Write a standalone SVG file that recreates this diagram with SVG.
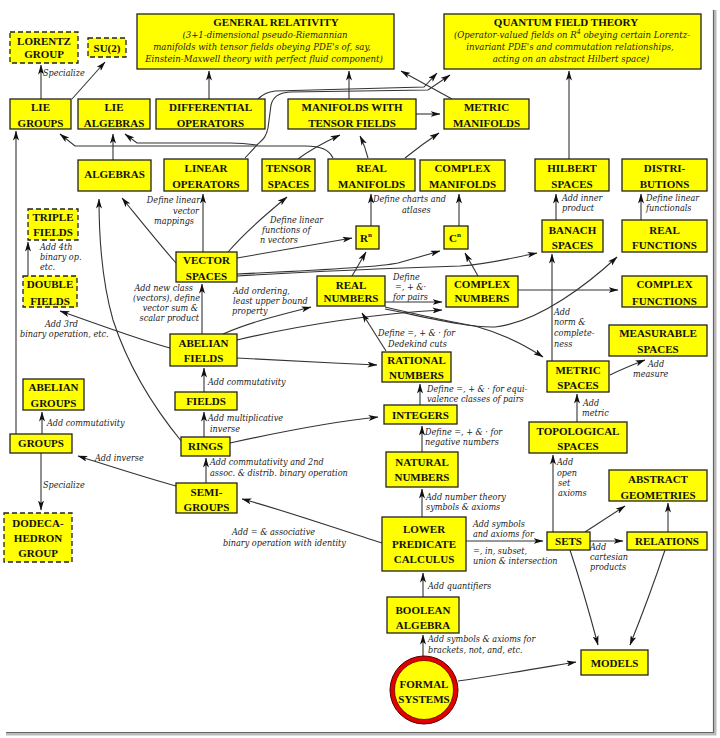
<svg xmlns="http://www.w3.org/2000/svg" width="720" height="738" viewBox="0 0 720 738">
<style>
.b{fill:#ffff00;stroke:#222;stroke-width:1.3}
.d{fill:#ffff00;stroke:#222;stroke-width:1.3;stroke-dasharray:5,3}
.t{font-family:"Liberation Serif",serif;font-weight:bold;font-size:11px;fill:#111;text-anchor:middle}
.i{font-family:"DejaVu Serif Condensed","Liberation Serif",serif;font-style:italic;font-size:9px;fill:#222}
.g{font-family:"DejaVu Serif Condensed","Liberation Serif",serif;font-style:italic;font-size:9.5px;fill:#222;text-anchor:middle}
.e{text-anchor:end}
#connectors path{fill:none;stroke:#333;stroke-width:1.1;marker-end:url(#a)}
</style>
<defs>
<marker id="a" markerWidth="10" markerHeight="6" refX="9.5" refY="3" orient="auto" markerUnits="userSpaceOnUse"><path d="M0,0 L10,3 L0,6 L2.5,3z" fill="#111"/></marker>
</defs>
<rect width="720" height="738" fill="#fff"/>
<path d="M715,10 V734 H6" fill="none" stroke="#bbb" stroke-width="3"/>
<path d="M713.5,10 V732.5 H6" fill="none" stroke="#666" stroke-width="1.2"/>

<g id="connectors">
<path d="M41,99 V65"/>
<path d="M72,99 L105,62"/>
<path d="M209,99 V71"/>
<path d="M349,99 V71"/>
<path d="M452,99 L401,71"/>
<path d="M258,99 C262,95 266,92 275,91 L424,87 L437,73"/>
<path d="M245,158 L257,145 C262,140 266,138 268,128 L271,105 C273,97 278,93 290,92 L428,90 L450,75"/>
<path d="M257,145 C250,144 245,143 230,143 H137 L125,134"/>
<path d="M333,158 C329,150 322,146 305,146 H75 L60,134"/>
<path d="M113,160 V134"/>
<path d="M298,159 C310,150 325,142 340,135"/>
<path d="M368,158 C366,150 364,144 360,136"/>
<path d="M405,158 C415,150 427,141 439,133"/>
<path d="M416,114 H440"/>
<path d="M569,159 V71"/>
<path d="M556,220 V194"/>
<path d="M641,220 V194"/>
<path d="M203,252 V194"/>
<path d="M228,252 C245,232 265,215 287,197"/>
<path d="M237,258 L352,238"/>
<path d="M176,263 C160,245 140,220 122,198"/>
<path d="M237,274 C300,271 375,268 398,263 L440,251"/>
<path d="M237,276 C320,271 400,268 460,266 C490,264 512,258 537,253"/>
<path d="M352,276 L366,252"/>
<path d="M371,226 V194"/>
<path d="M459,226 V194"/>
<path d="M478,276 L465,253"/>
<path d="M385,302 H442"/>
<path d="M518,290 H618"/>
<path d="M385,307 C420,315 450,322 475,326 C500,333 525,345 543,357"/>
<path d="M385,309 C430,318 470,328 495,327 C540,322 590,282 617,257"/>
<path d="M237,340 C300,325 380,313 442,310"/>
<path d="M223,334 C250,322 280,315 311,307"/>
<path d="M237,358 C280,360 330,363 377,365"/>
<path d="M202,334 V284"/>
<path d="M170,348 C140,340 100,325 60,311"/>
<path d="M28,276 V242"/>
<path d="M204,392 V368"/>
<path d="M204,437 V412"/>
<path d="M206,483 V458"/>
<path d="M230,443 C280,432 330,422 378,417"/>
<path d="M182,442 C150,403 127,363 113,320 C103,285 99,240 99,199"/>
<path d="M386,351 L362,313"/>
<path d="M420,405 V384"/>
<path d="M422,452 V426"/>
<path d="M422,517 V489"/>
<path d="M423,597 V573"/>
<path d="M423,657 V635"/>
<path d="M458,681 C500,675 540,668 576,662"/>
<path d="M466,541 H543"/>
<path d="M382,543 C340,530 290,512 242,499"/>
<path d="M176,486 C140,476 110,466 78,456"/>
<path d="M42,434 V412"/>
<path d="M16,434 V131"/>
<path d="M41,453 V510"/>
<path d="M553,532 V455"/>
<path d="M577,422 V394"/>
<path d="M552,361 V254"/>
<path d="M610,375 C620,370 632,365 645,360"/>
<path d="M590,541 H623"/>
<path d="M668,532 V503"/>
<path d="M585,532 L625,506"/>
<path d="M570,550 C580,580 590,615 598,645"/>
<path d="M665,550 C655,580 642,615 630,645"/>
</g>

<g id="labels">
<text class="i" x="43" y="76">Specialize</text>
<text class="i e" x="200" y="203">Define linear</text>
<text class="i e" x="199" y="214">vector</text>
<text class="i e" x="194" y="224">mappings</text>
<text class="i" x="270" y="223">Define linear</text>
<text class="i" x="262" y="233">functions of</text>
<text class="i" x="260" y="243">n vectors</text>
<text class="i" x="373" y="202">Define charts and</text>
<text class="i" x="402" y="213">atlases</text>
<text class="i" x="562" y="201">Add inner</text>
<text class="i" x="562" y="211">product</text>
<text class="i" x="646" y="201">Define linear</text>
<text class="i" x="646" y="211">functionals</text>
<text class="i" x="40" y="250">Add 4th</text>
<text class="i" x="40" y="260">binary op.</text>
<text class="i" x="40" y="270">etc.</text>
<text class="i e" x="193" y="291">Add new class</text>
<text class="i e" x="200" y="301">(vectors), define</text>
<text class="i e" x="198" y="311">vector sum &amp;</text>
<text class="i e" x="199" y="321">scalar product</text>
<text class="i" x="233" y="294">Add ordering,</text>
<text class="i" x="233" y="304">least upper bound</text>
<text class="i" x="232" y="314">property</text>
<text class="i" x="393" y="280">Define</text>
<text class="i" x="395" y="290">=, + &amp;·</text>
<text class="i" x="393" y="300">for pairs</text>
<text class="i" x="45" y="327">Add 3rd</text>
<text class="i" x="20" y="337">binary operation, etc.</text>
<text class="i" x="378" y="336">Define =, + &amp; · for</text>
<text class="i" x="388" y="347">Dedekind cuts</text>
<text class="i" x="554" y="315">Add</text>
<text class="i" x="554" y="325">norm &amp;</text>
<text class="i" x="554" y="336">complete-</text>
<text class="i" x="554" y="347">ness</text>
<text class="i" x="648" y="367">Add</text>
<text class="i" x="633" y="377">measure</text>
<text class="i" x="208" y="385">Add commutativity</text>
<text class="i" x="427" y="392">Define =, + &amp; · for equi-</text>
<text class="i" x="427" y="402">valence classes of pairs</text>
<text class="i" x="208" y="421">Add multiplicative</text>
<text class="i" x="210" y="432">inverse</text>
<text class="i" x="47" y="426">Add commutativity</text>
<text class="i" x="583" y="406">Add</text>
<text class="i" x="582" y="416">metric</text>
<text class="i" x="425" y="435">Define =, + &amp; · for</text>
<text class="i" x="425" y="445">negative numbers</text>
<text class="i" x="95" y="461">Add inverse</text>
<text class="i" x="210" y="465">Add commutativity and 2nd</text>
<text class="i" x="210" y="476">assoc. &amp; distrib. binary operation</text>
<text class="i" x="557" y="465">Add</text>
<text class="i" x="557" y="476">open</text>
<text class="i" x="558" y="486">set</text>
<text class="i" x="558" y="496">axioms</text>
<text class="i" x="43" y="488">Specialize</text>
<text class="i" x="426" y="500">Add number theory</text>
<text class="i" x="426" y="510">symbols &amp; axioms</text>
<text class="i" x="473" y="527">Add symbols</text>
<text class="i" x="473" y="537">and axioms for</text>
<text class="i" x="473" y="554">=, in, subset,</text>
<text class="i" x="473" y="564">union &amp; intersection</text>
<text class="i" x="232" y="535">Add = &amp; associative</text>
<text class="i" x="223" y="546">binary operation with identity</text>
<text class="i" x="590" y="550">Add</text>
<text class="i" x="590" y="560">cartesian</text>
<text class="i" x="590" y="570">products</text>
<text class="i" x="428" y="589">Add quantifiers</text>
<text class="i" x="428" y="642">Add symbols &amp; axioms for</text>
<text class="i" x="428" y="653">brackets, not, and, etc.</text>
</g>

<g id="gr"><rect class="b" x="137" y="14" width="257" height="55"/>
<text class="t" x="276" y="26">GENERAL RELATIVITY</text>
<text class="g" x="265" y="38">(3+1-dimensional pseudo-Riemannian</text>
<text class="g" x="262" y="50">manifolds with tensor fields obeying PDE's of, say,</text>
<text class="g" x="264" y="62">Einstein-Maxwell theory with perfect fluid component)</text></g>
<g id="qft"><rect class="b" x="444" y="14" width="257" height="55"/>
<text class="t" x="566" y="26">QUANTUM FIELD THEORY</text>
<text class="g" x="572" y="38">(Operator-valued fields on R<tspan dy="-4" font-size="7">4</tspan><tspan dy="4"> obeying certain Lorentz-</tspan></text>
<text class="g" x="570" y="50">invariant PDE's and commutation relationships,</text>
<text class="g" x="571" y="62">acting on an abstract Hilbert space)</text></g>
<g id="lorentz"><rect class="d" x="10" y="32" width="68" height="31"/><text class="t" x="44" y="45">LORENTZ</text><text class="t" x="44" y="58">GROUP</text></g>
<g id="su2"><rect class="d" x="88" y="38" width="38" height="19"/><text class="t" x="107" y="52">SU(2)</text></g>
<g id="lie-groups"><rect class="b" x="10" y="99" width="61" height="30"/><text class="t" x="40.5" y="111">LIE</text><text class="t" x="40.5" y="127">GROUPS</text></g>
<g id="lie-algebras"><rect class="b" x="78" y="99" width="72" height="30"/><text class="t" x="114" y="111">LIE</text><text class="t" x="114" y="127">ALGEBRAS</text></g>
<g id="diff-ops"><rect class="b" x="156" y="99" width="109" height="30"/><text class="t" x="210.5" y="111">DIFFERENTIAL</text><text class="t" x="210.5" y="127">OPERATORS</text></g>
<g id="mwtf"><rect class="b" x="288" y="99" width="128" height="30"/><text class="t" x="352" y="111">MANIFOLDS WITH</text><text class="t" x="352" y="127">TENSOR FIELDS</text></g>
<g id="metric-manifolds"><rect class="b" x="444" y="99" width="85" height="30"/><text class="t" x="486.5" y="111">METRIC</text><text class="t" x="486.5" y="127">MANIFOLDS</text></g>
<g id="algebras"><rect class="b" x="78" y="160" width="73" height="31"/><text class="t" x="114.5" y="178">ALGEBRAS</text></g>
<g id="linear-ops"><rect class="b" x="164" y="159" width="84" height="32"/><text class="t" x="206" y="172">LINEAR</text><text class="t" x="206" y="188">OPERATORS</text></g>
<g id="tensor-spaces"><rect class="b" x="262" y="159" width="53" height="32"/><text class="t" x="288.5" y="172">TENSOR</text><text class="t" x="288.5" y="188">SPACES</text></g>
<g id="real-manifolds"><rect class="b" x="328" y="159" width="87" height="32"/><text class="t" x="371.5" y="172">REAL</text><text class="t" x="371.5" y="188">MANIFOLDS</text></g>
<g id="complex-manifolds"><rect class="b" x="420" y="160" width="85" height="31"/><text class="t" x="462.5" y="172">COMPLEX</text><text class="t" x="462.5" y="188">MANIFOLDS</text></g>
<g id="hilbert"><rect class="b" x="535" y="159" width="74" height="32"/><text class="t" x="572" y="172">HILBERT</text><text class="t" x="572" y="188">SPACES</text></g>
<g id="distributions"><rect class="b" x="622" y="159" width="85" height="32"/><text class="t" x="664.5" y="172">DISTRI-</text><text class="t" x="664.5" y="188">BUTIONS</text></g>
<g id="triple-fields"><rect class="d" x="28" y="209" width="50" height="31"/><text class="t" x="53" y="221">TRIPLE</text><text class="t" x="53" y="236">FIELDS</text></g>
<g id="rn"><rect class="b" x="356" y="226" width="23" height="23"/><text class="t" x="366" y="242">R<tspan dy="-5" font-size="7">n</tspan></text></g>
<g id="cn"><rect class="b" x="444" y="226" width="24" height="23"/><text class="t" x="455" y="242">C<tspan dy="-5" font-size="7">n</tspan></text></g>
<g id="banach"><rect class="b" x="542" y="220" width="61" height="32"/><text class="t" x="572.5" y="234">BANACH</text><text class="t" x="572.5" y="249">SPACES</text></g>
<g id="real-functions"><rect class="b" x="622" y="220" width="85" height="32"/><text class="t" x="664.5" y="234">REAL</text><text class="t" x="664.5" y="249">FUNCTIONS</text></g>
<g id="vector-spaces"><rect class="b" x="176" y="252" width="61" height="30"/><text class="t" x="206.5" y="264">VECTOR</text><text class="t" x="206.5" y="280">SPACES</text></g>
<g id="double-fields"><rect class="d" x="23" y="276" width="54" height="31"/><text class="t" x="50" y="288">DOUBLE</text><text class="t" x="50" y="305">FIELDS</text></g>
<g id="real-numbers"><rect class="b" x="317" y="276" width="68" height="30"/><text class="t" x="351" y="289">REAL</text><text class="t" x="351" y="302">NUMBERS</text></g>
<g id="complex-numbers"><rect class="b" x="446" y="276" width="72" height="31"/><text class="t" x="482" y="288">COMPLEX</text><text class="t" x="482" y="302">NUMBERS</text></g>
<g id="complex-functions"><rect class="b" x="622" y="276" width="85" height="31"/><text class="t" x="664.5" y="288">COMPLEX</text><text class="t" x="664.5" y="305">FUNCTIONS</text></g>
<g id="measurable"><rect class="b" x="609" y="325" width="98" height="31"/><text class="t" x="658" y="337">MEASURABLE</text><text class="t" x="658" y="353">SPACES</text></g>
<g id="abelian-fields"><rect class="b" x="170" y="334" width="67" height="32"/><text class="t" x="203.5" y="347">ABELIAN</text><text class="t" x="203.5" y="362">FIELDS</text></g>
<g id="rational"><rect class="b" x="382" y="352" width="69" height="30"/><text class="t" x="416.5" y="364">RATIONAL</text><text class="t" x="416.5" y="379">NUMBERS</text></g>
<g id="metric-spaces"><rect class="b" x="547" y="361" width="62" height="31"/><text class="t" x="578" y="374">METRIC</text><text class="t" x="578" y="389">SPACES</text></g>
<g id="abelian-groups"><rect class="b" x="23" y="379" width="61" height="31"/><text class="t" x="53.5" y="391">ABELIAN</text><text class="t" x="53.5" y="407">GROUPS</text></g>
<g id="fields"><rect class="b" x="175" y="392" width="62" height="18"/><text class="t" x="206" y="405">FIELDS</text></g>
<g id="integers"><rect class="b" x="384" y="405" width="73" height="19"/><text class="t" x="420.5" y="419">INTEGERS</text></g>
<g id="topological"><rect class="b" x="529" y="422" width="98" height="31"/><text class="t" x="578" y="435">TOPOLOGICAL</text><text class="t" x="578" y="450">SPACES</text></g>
<g id="groups"><rect class="b" x="10" y="434" width="62" height="19"/><text class="t" x="41" y="447">GROUPS</text></g>
<g id="rings"><rect class="b" x="181" y="437" width="49" height="19"/><text class="t" x="205.5" y="450">RINGS</text></g>
<g id="natural"><rect class="b" x="386" y="452" width="72" height="35"/><text class="t" x="422" y="466">NATURAL</text><text class="t" x="422" y="481">NUMBERS</text></g>
<g id="abstract-geometries"><rect class="b" x="609" y="470" width="98" height="31"/><text class="t" x="658" y="483">ABSTRACT</text><text class="t" x="658" y="499">GEOMETRIES</text></g>
<g id="semi-groups"><rect class="b" x="176" y="483" width="61" height="30"/><text class="t" x="206.5" y="496">SEMI-</text><text class="t" x="206.5" y="511">GROUPS</text></g>
<g id="dodecahedron"><rect class="d" x="4" y="513" width="68" height="49"/><text class="t" x="38" y="527">DODECA-</text><text class="t" x="38" y="542">HEDRON</text><text class="t" x="38" y="557">GROUP</text></g>
<g id="lpc"><rect class="b" x="382" y="517" width="84" height="54"/><text class="t" x="424" y="533">LOWER</text><text class="t" x="424" y="548">PREDICATE</text><text class="t" x="424" y="563">CALCULUS</text></g>
<g id="sets"><rect class="b" x="547" y="532" width="43" height="18"/><text class="t" x="568.5" y="545">SETS</text></g>
<g id="relations"><rect class="b" x="627" y="532" width="80" height="18"/><text class="t" x="667" y="545">RELATIONS</text></g>
<g id="boolean"><rect class="b" x="387" y="597" width="72" height="36"/><text class="t" x="423" y="614">BOOLEAN</text><text class="t" x="423" y="629">ALGEBRA</text></g>
<g id="models"><rect class="b" x="581" y="650" width="67" height="25"/><text class="t" x="614.5" y="667">MODELS</text></g>
<g id="formal"><circle cx="424" cy="690" r="34" fill="#e00000" stroke="#500" stroke-width="1"/><circle cx="424" cy="690" r="29.5" fill="#ffff00" stroke="#600" stroke-width="0.8"/><text class="t" x="424" y="688">FORMAL</text><text class="t" x="424" y="703">SYSTEMS</text></g>
</svg>
